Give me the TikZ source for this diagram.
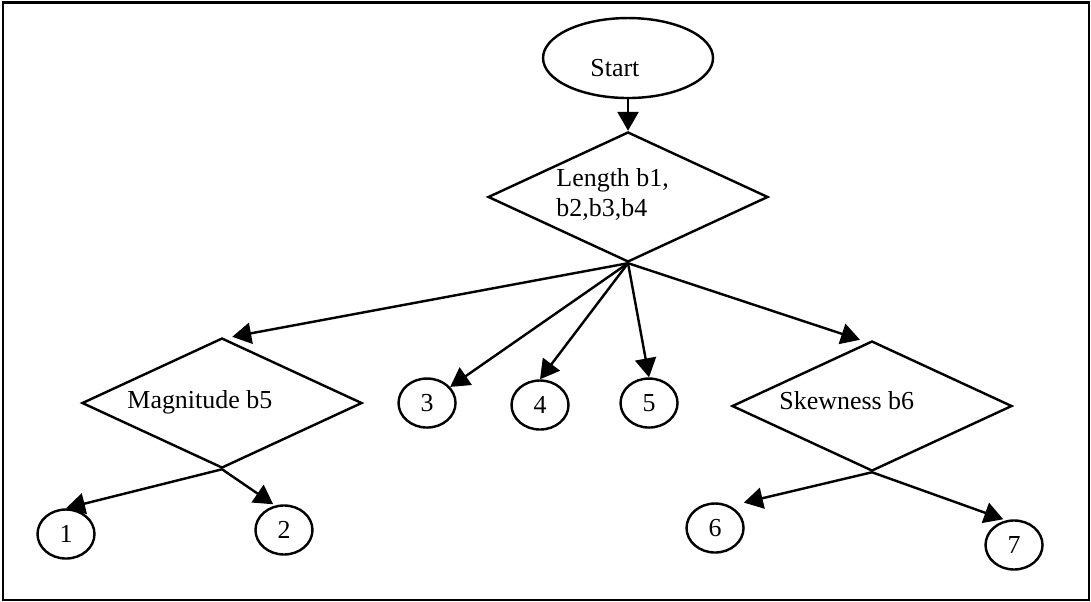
\documentclass[tikz,border=0pt]{standalone}
\usepackage{fontspec}
\setmainfont{Liberation Serif}
\usetikzlibrary{shapes.geometric,arrows.meta}

\begin{document}
\begin{tikzpicture}[
  every node/.style={font=\fontsize{12.3}{13.8}\selectfont},
  decision/.style={draw, diamond, line width=1.15pt, minimum width=4.667cm, minimum height=2.167cm, inner sep=0pt},
  leaf/.style={draw, ellipse, line width=1.15pt, minimum width=0.95cm, minimum height=0.817cm, inner sep=0pt},
  boxtext/.style={inner sep=0pt, anchor=base west, align=left},
  flow/.style={-{Triangle[length=9pt,width=10pt]}, line width=1.15pt}
]
  % Frame round the chart
  \useasboundingbox (0,0) rectangle (18.183,-10.033);
  \draw[line width=1.2pt] (0.05,-0.04) rectangle (18.15,-10.0);

  % Start and the first test
  \node[draw, ellipse, line width=1.15pt, minimum width=2.833cm, minimum height=1.333cm] (start) at (10.467,-0.967) {};
  \node[boxtext] (starttxt) at (9.833,-1.267) {Start};
  \node[decision] (len) at (10.467,-3.283) {};
  \node[boxtext] (lentxt) at (9.267,-3.6) {Length b1,\\b2,b3,b4};

  % Second level tests
  \node[decision] (mag) at (3.7,-6.717) {};
  \node[boxtext] (magtxt) at (2.117,-6.8) {Magnitude b5};
  \node[decision] (skew) at (14.533,-6.767) {};
  \node[boxtext] (skewtxt) at (12.983,-6.833) {Skewness b6};

  % Classes
  \node[leaf] (n1) at (1.1,-8.9) {1};
  \node[leaf] (n2) at (4.733,-8.833) {2};
  \node[leaf] (n3) at (7.117,-6.717) {3};
  \node[leaf] (n4) at (9.0,-6.75) {4};
  \node[leaf] (n5) at (10.817,-6.717) {5};
  \node[leaf] (n6) at (11.917,-8.8) {6};
  \node[leaf] (n7) at (16.9,-9.083) {7};

  % Arrows
  \draw[flow] (start.south) -- (len.north);
  \draw[flow] (len.south) -- ([xshift=0.17cm]mag.north);
  \draw[flow] (len.south) -- (n3);
  \draw[flow] (len.south) -- (n4.north);
  \draw[flow] (len.south) -- (n5.north);
  \draw[flow] (len.south) -- ([xshift=-0.2cm]skew.north);

  \draw[flow] (mag.south) -- (n1.north);
  \draw[flow] (mag.south) -- ([xshift=-0.18cm]n2.north);
  \draw[flow] (skew.south) -- ([xshift=0.13cm,yshift=0.12cm]n6.north east);
  \draw[flow] (skew.south) -- ([xshift=-0.18cm]n7.north);
\end{tikzpicture}
\end{document}
